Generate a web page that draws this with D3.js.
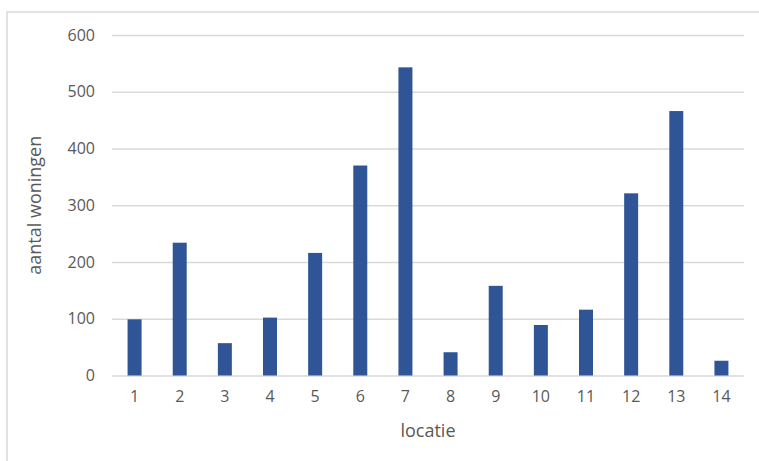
<!DOCTYPE html>
<html>
<head>
<meta charset="utf-8">
<script src="https://cdn.jsdelivr.net/npm/d3@7"></script>
<style>
  html, body { margin: 0; padding: 0; background: #fff; }
  svg { display: block; }
  text { font-family: "Open Sans", "Noto Sans", sans-serif; fill: #595959; }
</style>
</head>
<body>
<div id="chart"></div>
<script>
const categories = ["1","2","3","4","5","6","7","8","9","10","11","12","13","14"];
const values = [99, 234, 57, 102, 216, 370, 543, 41, 158, 89, 116, 321, 466, 26];
const yTicks = [0, 100, 200, 300, 400, 500, 600];
const xTitle = "locatie";
const yTitle = "aantal woningen";

const W = 759, H = 461;
const plot = { left: 112, right: 744, top: 35, bottom: 375.5 };

const svg = d3.select("#chart").append("svg").attr("width", W).attr("height", H);

// chart frame
svg.append("rect")
  .attr("x", 7).attr("y", 12)
  .attr("width", W + 10).attr("height", H + 10)
  .attr("fill", "none").attr("stroke", "#d9d9d9").attr("stroke-width", 1.5);

const x = d3.scaleBand().domain(categories).range([plot.left, plot.right]).paddingInner(0.69).paddingOuter(0.345);
const y = d3.scaleLinear().domain([0, 600]).range([plot.bottom, plot.top]);

// gridlines
const yAxis = d3.axisLeft(y).tickValues(yTicks).tickSize(-(plot.right - plot.left)).tickPadding(17);
const gy = svg.append("g").attr("transform", `translate(${plot.left},0)`).call(yAxis);
gy.select(".domain").remove();
gy.selectAll(".tick line").attr("stroke", "#d9d9d9").attr("stroke-width", 1.5);
gy.selectAll(".tick text").attr("font-size", 16).attr("fill", "#595959")
  .style("font-family", '"Open Sans", "Noto Sans", sans-serif');

// bars
svg.append("g").selectAll("rect").data(values).join("rect")
  .attr("x", (d, i) => x(categories[i]))
  .attr("width", x.bandwidth())
  .attr("y", d => y(d))
  .attr("height", d => y(0) - y(d))
  .attr("fill", "#2f5597");

// x axis labels
const xAxis = d3.axisBottom(x).tickSize(0).tickPadding(15);
const gx = svg.append("g").attr("transform", `translate(0,${plot.bottom})`).call(xAxis);
gx.select(".domain").remove();
gx.selectAll(".tick text").attr("font-size", 16).attr("fill", "#595959")
  .style("font-family", '"Open Sans", "Noto Sans", sans-serif');

// axis titles
svg.append("text")
  .attr("x", (plot.left + plot.right) / 2).attr("y", 437)
  .attr("text-anchor", "middle").attr("font-size", 18)
  .text(xTitle);

svg.append("text")
  .attr("transform", `translate(41,${(plot.top + plot.bottom) / 2}) rotate(-90)`)
  .attr("text-anchor", "middle").attr("font-size", 18)
  .text(yTitle);
</script>
</body>
</html>
